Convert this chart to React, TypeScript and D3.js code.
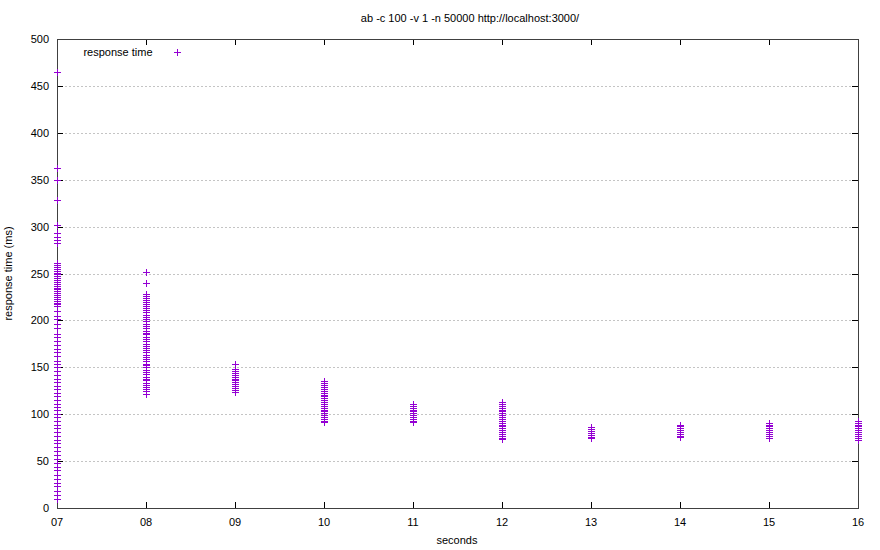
import React from "react";
import * as d3 from "d3";

const title = "ab -c 100 -v 1 -n 50000 http://localhost:3000/";
const xLabel = "seconds";
const yLabel = "response time (ms)";
const legendLabel = "response time";
const xTicks = [7, 8, 9, 10, 11, 12, 13, 14, 15, 16];
const yTicks = [0, 50, 100, 150, 200, 250, 300, 350, 400, 450, 500];

const sec07 = [465, 363, 350, 328, 302, 293, 289, 286, 283, 261, 259, 257, 255, 253, 251, 249, 247, 245, 243, 241, 239, 237, 235, 233, 231, 229, 227, 225, 223, 221, 219, 217, 215, 210, 205, 201, 196, 192, 186, 182, 178, 174, 170, 166, 162, 157, 153, 150, 146, 142, 138, 134, 130, 127, 123, 119, 115, 111, 108, 104, 100, 97, 93, 89, 85, 81, 77, 73, 69, 65, 61, 57, 52, 48, 44, 40, 35, 31, 27, 23, 18, 14, 10];
const sec08 = [252, 240, 228, 226, 224, 222, 220, 218, 215, 213, 211, 209, 206, 204, 201, 199, 196, 194, 192, 189, 187, 185, 182, 180, 178, 175, 173, 171, 168, 166, 163, 161, 159, 157, 154, 152, 150, 147, 145, 143, 140, 138, 136, 133, 131, 129, 127, 125, 122];
const sec09 = [153, 148, 146, 144, 142, 140, 138, 136, 134, 132, 130, 128, 126, 124];
const sec10 = [135, 133, 131, 129, 127, 125, 123, 121, 119, 117, 115, 113, 111, 109, 107, 105, 103, 101, 99, 97, 95, 93, 92];
const sec11 = [111, 109, 107, 105, 103, 101, 99, 97, 95, 93, 92];
const sec12 = [113, 111, 109, 107, 105, 103, 101, 99, 97, 95, 93, 91, 89, 87, 85, 83, 81, 79, 77, 75, 74];
const sec13 = [86, 84, 82, 80, 78, 76, 75];
const sec14 = [89, 87, 85, 83, 81, 79, 77, 76];
const sec15 = [91, 89, 87, 85, 83, 81, 79, 77, 75];
const sec16 = [93, 91, 89, 87, 85, 83, 81, 79, 77, 75, 73];

const columns: [number, number[]][] = [
  [7, sec07], [8, sec08], [9, sec09], [10, sec10], [11, sec11],
  [12, sec12], [13, sec13], [14, sec14], [15, sec15], [16, sec16],
];

export default function App() {
  const W = 880, H = 550;
  const left = 57, right = 858, top = 39, bottom = 508;
  const x = d3.scaleLinear().domain([7, 16]).range([left, right]);
  const y = d3.scaleLinear().domain([0, 500]).range([bottom, top]);
  const color = "#9400D3";
  const font = "'Liberation Sans', Arial, sans-serif";
  const pts: { x: number; y: number }[] = [];
  columns.forEach(([s, vals]) => vals.forEach((v) => pts.push({ x: s, y: v })));
  const plus = (cx: number, cy: number, k: string) => (
    <path key={k} d={`M${cx - 3.5},${cy}H${cx + 3.5}M${cx},${cy - 3.5}V${cy + 3.5}`} stroke={color} strokeWidth={1} fill="none" />
  );
  return (
    <svg width={W} height={H} style={{ position: "absolute", left: 0, top: 0, background: "#fff" }} fontFamily={font}>
      <rect x={0} y={0} width={W} height={H} fill="#fff" />
      {yTicks.filter((t) => t > 0 && t < 500).map((t) => (
        <line key={"g" + t} x1={left} x2={right} y1={Math.round(y(t)) + 0.5} y2={Math.round(y(t)) + 0.5} stroke="#c4c4c4" strokeWidth={1} strokeDasharray="2,2" />
      ))}
      {yTicks.map((t) => (
        <g key={"yt" + t}>
          <line x1={left} x2={left + 6} y1={Math.round(y(t)) + 0.5} y2={Math.round(y(t)) + 0.5} stroke="#000" />
          <line x1={right - 6} x2={right} y1={Math.round(y(t)) + 0.5} y2={Math.round(y(t)) + 0.5} stroke="#000" />
          <text x={left - 8} y={y(t) + 4} textAnchor="end" fontSize={11} fill="#000">{t}</text>
        </g>
      ))}
      {xTicks.map((t) => (
        <g key={"xt" + t}>
          <line x1={Math.round(x(t)) + 0.5} x2={Math.round(x(t)) + 0.5} y1={bottom} y2={bottom - 6} stroke="#000" />
          <line x1={Math.round(x(t)) + 0.5} x2={Math.round(x(t)) + 0.5} y1={top} y2={top + 6} stroke="#000" />
          <text x={x(t)} y={bottom + 18} textAnchor="middle" fontSize={11} fill="#000">{d3.format("02d")(t)}</text>
        </g>
      ))}
      <rect x={left + 0.5} y={top + 0.5} width={right - left} height={bottom - top} fill="none" stroke="#404040" strokeWidth={1} />
      {pts.map((p, i) => plus(x(p.x) + 0.5, Math.round(y(p.y)) + 0.5, "p" + i))}
      <text x={118} y={56} textAnchor="middle" fontSize={11} fill="#000">{legendLabel}</text>
      {plus(177.5, 52.5, "leg")}
      <text x={470} y={22} textAnchor="middle" fontSize={11} fill="#000">{title}</text>
      <text x={457} y={544} textAnchor="middle" fontSize={11} fill="#000">{xLabel}</text>
      <text transform={`translate(12,${(top + bottom) / 2}) rotate(-90)`} textAnchor="middle" fontSize={11} fill="#000">{yLabel}</text>
    </svg>
  );
}
